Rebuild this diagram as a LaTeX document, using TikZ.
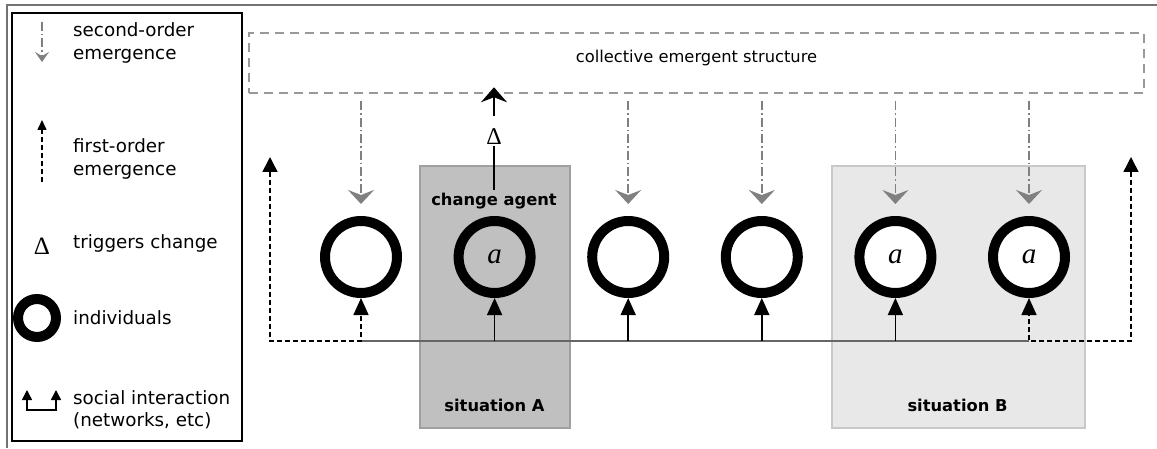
\documentclass[tikz,border=0pt]{standalone}
\usepackage{fontspec}
\setmainfont{DejaVu Sans}
\newfontfamily\serifsym{Liberation Serif}
\usetikzlibrary{arrows.meta, positioning}

\definecolor{sitgrayA}{HTML}{C0C0C0}
\definecolor{sitlineA}{HTML}{A0A0A0}
\definecolor{sitgrayB}{HTML}{E8E8E8}
\definecolor{sitlineB}{HTML}{C8C8C8}
\definecolor{emgray}{HTML}{999999}
\definecolor{arrgray}{HTML}{808080}

\begin{document}
\begin{tikzpicture}[x=1pt, y=1pt,
        indiv/.style={circle, draw=black, line width=10pt, minimum size=72pt, inner sep=0pt,
                      fill=white, font=\fontsize{29}{29}\serifsym\itshape},
        emerg/.style={rectangle, draw=emgray, line width=2.5pt, dash pattern=on 9pt off 6pt},
        sitAbox/.style={rectangle, draw=sitlineA, fill=sitgrayA, line width=1.8pt},
        sitBbox/.style={rectangle, draw=sitlineB, fill=sitgrayB, line width=1.8pt},
        lab/.style={font=\fontsize{16.3}{19}\selectfont\bfseries, inner sep=2.5pt},
        legtext/.style={anchor=west, align=left, inner sep=0pt, font=\fontsize{18.3}{22.5}\selectfont},
        deltasym/.style={inner sep=1pt, font=\fontsize{24}{24}\serifsym},
        secondarr/.style={arrgray, line width=1.5pt, dash pattern=on 9pt off 3pt on 1.5pt off 3pt,
                          -{Stealth[length=14pt, width=26pt, inset=5pt]},
                          shorten <=7pt, shorten >=12pt},
        firstarr/.style={black, line width=1.5pt, dash pattern=on 5pt off 3pt},
        uparr/.style={black, line width=1.5pt, -{Triangle[length=17pt, width=15pt]}},
        social/.style={black!60, line width=1.5pt},
        change/.style={black, line width=2pt, -{Stealth[length=15pt, width=26pt, inset=5pt]}}]

  \useasboundingbox (0,0) rectangle (1157,448);

  % frame and legend box
  \draw[black!55, line width=1.5pt] (7,0) -- (7,443) -- (1157,443);
  \draw[black, line width=1.2pt] (12,7) rectangle (242,435);

  % situations
  \node[sitAbox, minimum width=150pt, minimum height=262pt] (sitA) at (495,151) {};
  \node[sitBbox, minimum width=253pt, minimum height=262pt] (sitB) at (958.5,151) {};
  \node[lab] (labA) at (494.5,43) {situation A};
  \node[lab] (labB) at (957.5,43) {situation B};

  % collective structure
  \node[emerg, minimum width=895pt, minimum height=60pt] (emergent) at (696.5,385) {};
  \node[font=\fontsize{16.3}{19}\selectfont] (title) at (696.5,390) {collective emergent structure};

  % individuals
  \node[indiv] (c1) at (361,191) {};
  \node[indiv, fill=none, right=51.6pt of c1] (c2) {a};
  \node[indiv, right=51.6pt of c2] (c3) {};
  \node[indiv, right=51.6pt of c3] (c4) {};
  \node[indiv, right=51.6pt of c4] (c5) {a};
  \node[indiv, right=51.6pt of c5] (c6) {a};
  \coordinate (base) at (0,107);

  % social interaction
  \draw[social] (c1 |- base) -- (c6 |- base);
  \draw[uparr] (c2 |- base) -- (c2);
  \draw[uparr] (c3 |- base) -- (c3);
  \draw[uparr] (c4 |- base) -- (c4);
  \draw[uparr] (c5 |- base) -- (c5);

  % first-order emergence
  \coordinate (lfree) at (270,291);
  \coordinate (rfree) at (1131,291);
  \draw[firstarr, {Triangle[length=15pt, width=15pt]}-{Triangle[length=17pt, width=15pt]}]
    (lfree) |- (c1 |- base) -- (c1);
  \draw[firstarr, {Triangle[length=15pt, width=15pt]}-{Triangle[length=17pt, width=15pt]}]
    (rfree) |- (c6 |- base) -- (c6);

  % second-order emergence
  \draw[secondarr] (emergent.south -| c1) -- (c1);
  \draw[secondarr] (emergent.south -| c3) -- (c3);
  \draw[secondarr] (emergent.south -| c4) -- (c4);
  \draw[secondarr] (emergent.south -| c5) -- (c5);
  \draw[secondarr] (emergent.south -| c6) -- (c6);

  % change agent
  \node[lab] (agent) at (494,247) {change agent};
  \node[deltasym] (delta) at (494,311) {Δ};
  \coordinate (ctip) at ([yshift=7pt]emergent.south -| delta);
  \draw[black, line width=2pt] (agent) -- (delta);
  \draw[change, shorten <=12pt] (delta) -- (ctip);

  % legend
  \coordinate (l2a) at (42,426);
  \coordinate (l2b) at (42,386);
  \draw[secondarr, shorten <=0pt, shorten >=0pt, -{Stealth[length=10pt, width=14pt, inset=4pt]}] (l2a) -- (l2b);
  \node[legtext] (l2t) at (73,405) {second-order\\emergence};

  \coordinate (l1a) at (42,266);
  \coordinate (l1b) at (42,328);
  \draw[firstarr, -{Triangle[length=10pt, width=9pt]}] (l1a) -- (l1b);
  \node[legtext] (l1t) at (73,289) {first-order\\emergence};

  \node[deltasym, font=\fontsize{25}{25}\serifsym] (ldelta) at (42,202) {Δ};
  \node[legtext] (ldt) at (73,205) {triggers change};

  \node[indiv, minimum size=38pt] (lcirc) at (37,130) {};
  \node[legtext] (lct) at (73,130) {individuals};

  \coordinate (sa) at (27,58);
  \coordinate (sb) at (56,58);
  \draw[black, line width=1.5pt, {Triangle[length=10pt, width=10pt]}-{Triangle[length=10pt, width=10pt]}]
    (sa) -- ++(0,-20) -| (sb);
  \node[legtext] (lst) at (73,38) {social interaction\\(networks, etc)};
\end{tikzpicture}
\end{document}
